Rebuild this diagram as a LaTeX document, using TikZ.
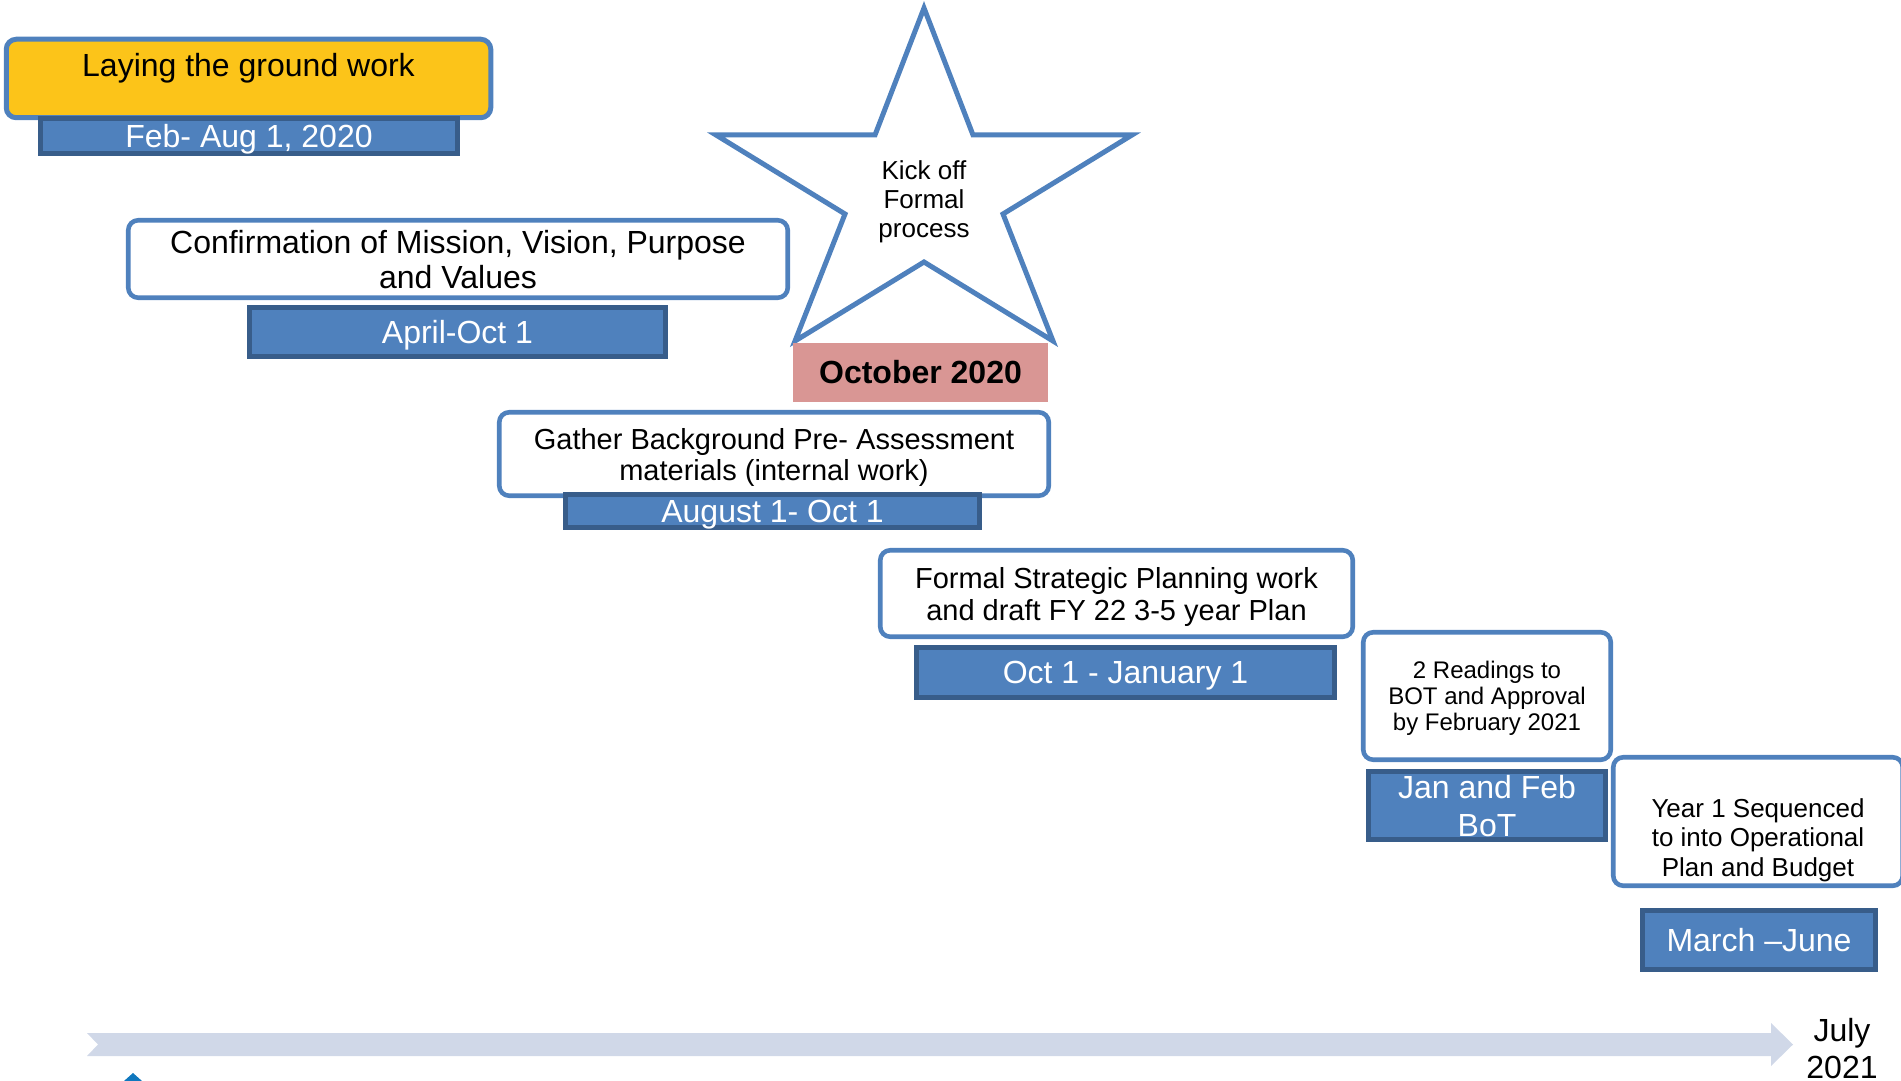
\documentclass[tikz,border=0pt]{standalone}
\usepackage{fontspec}
\setmainfont{Liberation Sans}
\definecolor{boxblue}{RGB}{79,129,189}
\definecolor{bardark}{RGB}{56,93,138}
\definecolor{groundyellow}{RGB}{252,196,25}
\definecolor{octpink}{RGB}{217,150,148}
\definecolor{timegrey}{RGB}{208,216,232}
\definecolor{logoblue}{RGB}{16,120,190}

\begin{document}
\begin{tikzpicture}[x=0.5pt, y=-0.5pt, inner sep=0pt,
    task/.style={draw=boxblue, line width=2.3pt, rounded corners=5pt, fill=white, align=center, text depth=0pt, font=\fontsize{16}{17.5}\selectfont},
    period/.style={draw=bardark, line width=2.5pt, fill=boxblue, text=white, align=center, text depth=0pt, font=\fontsize{16}{19}\selectfont}]
    \useasboundingbox (0,0) rectangle (1901,1081);
    \clip (0,0) rectangle (1901,1081);

    \fill[timegrey] (87,1033) -- (1771,1033) -- (1771,1023) -- (1793,1044.5) -- (1771,1066) -- (1771,1056) -- (87,1056) -- (98,1044.5) -- cycle;
    \fill[logoblue] (124,1081) -- (133,1073) -- (142,1081) -- cycle;
    \node[font=\fontsize{16}{18.5}\selectfont, align=center] (july) at (1842,1049) {July\\2021};

    \draw[boxblue, line width=2.5pt, fill=white] (924,8) -- (973,135) -- (1132,135) -- (1003,214) -- (1053,341) -- (924,262)
        -- (795,341) -- (845,214) -- (716,135) -- (875,135) -- cycle;
    \node[font=\fontsize{13}{14.5}\selectfont, align=center] (kick) at (924,201.5) {Kick off\\Formal\\process};
    \node[fill=octpink, minimum width=127.5pt, minimum height=29.5pt, font=\fontsize{16}{19}\selectfont\bfseries] (oct) at (920.5,372.5) {October 2020};

    \node[task, fill=groundyellow, line width=2.5pt, minimum width=242.25pt, minimum height=39.25pt, text depth=13.8pt] (t0) at (248.5,78.5) {Laying the ground work};
    \node[task, minimum width=329.75pt, minimum height=38.75pt] (t1) at (458,259) {Confirmation of Mission, Vision, Purpose\\and Values};
    \node[task, minimum width=274.75pt, minimum height=41.75pt, font=\fontsize{14.5}{15.5}\selectfont] (t2) at (774,454) {Gather Background Pre- Assessment\\materials (internal work)};
    \node[task, minimum width=236.25pt, minimum height=43.25pt, font=\fontsize{14.5}{16}\selectfont] (t3) at (1116.5,593.5) {Formal Strategic Planning work\\and draft FY 22 3-5 year Plan};
    \node[task, minimum width=123.75pt, minimum height=63.75pt, font=\fontsize{12}{13}\selectfont] (t4) at (1487,696) {2 Readings to\\BOT and Approval\\by February 2021};
    \node[task, minimum width=144.75pt, minimum height=64.25pt, text height=54.8pt, font=\fontsize{13}{14.75}\selectfont] (t5) at (1758,821.5) {Year 1 Sequenced\\to into Operational\\Plan and Budget};

    \node[period, minimum width=208.5pt, minimum height=17.5pt] (d0) at (249,136) {Feb- Aug 1, 2020};
    \node[period, minimum width=208pt, minimum height=24.5pt] (d1) at (457.5,332) {April-Oct 1};
    \node[period, minimum width=207pt, minimum height=16.5pt] (d2) at (772.5,511) {August 1- Oct 1};
    \node[period, minimum width=209pt, minimum height=25pt] (d3) at (1125.5,672.5) {Oct 1 - January 1};
    \node[period, minimum width=118.5pt, minimum height=34pt] (d4) at (1487,805.5) {Jan and Feb\\BoT};
    \node[period, minimum width=116.5pt, minimum height=29.5pt] (d5) at (1759,940) {March --June};
\end{tikzpicture}
\end{document}
